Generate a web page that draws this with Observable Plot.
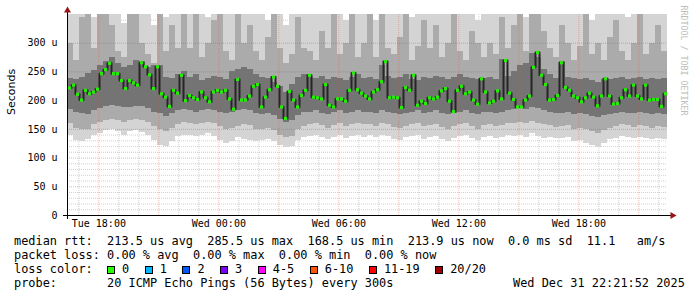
<!DOCTYPE html>
<html><head><meta charset="utf-8">
<script src="https://cdn.jsdelivr.net/npm/d3@7"></script>
<script src="https://cdn.jsdelivr.net/npm/@observablehq/plot@0.6"></script>
<style>
body{margin:0;background:#fff;width:697px;height:297px;overflow:hidden;font-family:"DejaVu Sans Mono",monospace;}
#chart svg{display:block;}
#legend{position:relative;font-size:11.9px;line-height:14px;color:#000;white-space:pre;padding-left:14px;}
#legend .ln{position:relative;height:14px;}
.sw{display:inline-block;width:6px;height:6px;border:1px solid #000;margin-right:7px;vertical-align:-1px;}
.it{margin-right:15.5px;}
.date{position:absolute;left:499px;top:0;}
</style></head><body>
<div id="chart"></div>
<div id="legend"></div>
<script>
// ---- time frame (UTC) ----
const t0 = Date.UTC(2025, 11, 30, 16, 26);
const tEnd = Date.UTC(2025, 11, 31, 22, 26);
const MIN = 60000;
const medStepMin = 12;   // one median every 12 min
const smokeStepMin = 18; // one smoke column every 18 min

// ---- median rtt (microseconds), loss 0 ----
const median = [
  222,227,211,201,218,212,215,220,247,254,
  265,247,247,235,221,235,231,227,266,259,
  245,221,259,212,206,190,218,213,244,200,
  209,205,202,215,205,198,215,218,
  215,218,203,185,237,201,201,208,225,228,189,206,
  219,241,225,189,169,216,201,189,209,218,
  244,206,205,203,228,192,189,203,203,199,
  218,248,219,213,208,203,
  215,219,233,268,205,206,205,188,223,218,
  244,192,199,195,205,203,206,217,221,199,
  181,218,225,212,215,201,194,238,215,196,
  199,217,203,270,213,202,189,
  189,201,208,258,284,244,228,201,202,209,
  266,223,218,208,205,198,205,213,206,191,
  208,238,208,194,195,205,219,208,227,208,
  203,227,201,202,202,190,212
];

// ---- smoke (distribution of the 20 pings, microseconds) ----
const sMax = [
  360,350,360,360,345,360,360,360,360,335,
  360,360,360,360,330,360,345,360,360,360,
  360,360,360,345,360,360,360,360,350,360,
  360,360,360,340,360,360,330,360,360,360,
  360,360,350,360,360,360,340,360,360,360,
  360,340,360,360,360,360,360,345,360,360,
  360,360,360,360,350,360,360,360,340,360,
  360,360,360,360,360,360,345,360,360,360,
  360,350,360,360,360,360,360,340,360,360,
  360,360,360,345,360,360,360,350,360,360
];
const sHi = [
  300,270,345,360,290,360,360,330,285,275,
  360,360,300,280,265,360,285,330,290,350,
  290,360,275,300,340,360,285,270,360,300,
  330,285,270,310,360,290,265,280,345,290,
  285,270,320,290,360,280,300,360,275,300,
  360,275,360,290,280,310,360,270,295,340,
  290,330,275,300,360,285,270,320,300,275,
  300,280,345,290,330,360,285,360,360,320,
  290,275,330,300,270,295,360,280,300,270,
  310,340,285,270,300,360,280,300,330,285
];
const cHi = [
  238,236,240,248,252,262,268,275,265,258,
  262,270,268,258,262,262,240,238,245,250,
  240,245,235,238,242,240,236,250,255,258,
  255,245,240,238,232,225,215,228,240,245,
  240,238,242,236,240,238,235,240,245,238,
  240,236,262,242,238,240,245,236,235,240,
  238,242,240,236,240,245,240,238,236,238,
  240,236,272,242,250,262,265,282,275,255,
  245,238,268,240,238,236,238,235,232,236,
  236,238,240,236,238,240,236,238,236,238
];
const cLo = [
  184,180,178,176,182,186,190,192,190,188,
  188,190,190,186,180,178,172,178,182,184,
  182,180,182,184,183,180,178,180,182,184,
  182,178,176,178,175,168,162,165,175,180,
  180,182,178,176,180,182,178,180,182,180,
  180,178,182,180,178,176,178,180,182,178,
  180,182,178,176,178,180,182,178,176,180,
  180,178,180,182,184,186,185,188,186,182,
  180,178,178,180,176,178,176,172,170,174,
  176,178,180,178,178,180,178,176,178,176
];
const sLo = [
  160,152,150,150,158,162,165,168,165,162,
  165,168,166,162,155,150,146,152,158,162,
  160,158,160,162,160,155,150,152,155,158,
  156,150,150,152,148,140,135,138,150,155,
  158,160,156,152,156,160,155,158,160,158,
  158,155,160,158,154,152,155,158,160,155,
  156,158,154,150,155,158,160,155,150,156,
  158,155,156,160,160,162,160,164,160,158,
  156,154,155,156,150,152,150,146,142,148,
  152,155,158,156,154,156,155,152,155,154
];
const sMin = [
  140,130,128,132,140,142,148,150,146,140,
  146,148,145,140,130,122,120,128,138,140,
  140,138,140,142,138,130,126,128,135,132,
  130,128,130,132,128,122,118,120,130,135,
  138,140,136,132,135,140,134,138,140,136,
  140,135,140,138,132,130,135,138,140,132,
  136,138,132,128,134,138,140,134,130,136,
  138,134,136,140,138,140,136,142,138,134,
  136,134,134,136,128,130,126,122,118,126,
  132,134,138,136,134,136,134,132,134,132
];

// ---- axis ticks / labels ----
const yTicks = [0, 50, 100, 150, 200, 250, 300];
const yTickLabels = ["0", "50 u", "100 u", "150 u", "200 u", "250 u", "300 u"];
const dayNames = ["Sun", "Mon", "Tue", "Wed", "Thu", "Fri", "Sat"];

// ---- legend texts ----
const statLines = [
  "median rtt:  213.5 us avg  285.5 us max  168.5 us min  213.9 us now  0.0 ms sd  11.1   am/s",
  "packet loss: 0.00 % avg  0.00 % max  0.00 % min  0.00 % now"
];
const lossLabels = ["0", "1", "2", "3", "4-5", "6-10", "11-19", "20/20"];
const lossColors = ["#26ff00", "#00b8ff", "#0059ff", "#7e00ff", "#ff00ff", "#ff5500", "#ff0000", "#a10000"];
const probeText = "probe:       20 ICMP Echo Pings (56 Bytes) every 300s";
const dateText = "Wed Dec 31 22:21:52 2025";

// ---- build tables ----
const medRows = median.map((v, i) => ({t: new Date(t0 + (i * medStepMin + medStepMin / 2) * MIN), v}));
const smoke = sMax.map((_, j) => ({
  t1: new Date(t0 + j * smokeStepMin * MIN),
  t2: new Date(t0 + (j + 1) * smokeStepMin * MIN),
  min: sMin[j], lo: sLo[j], clo: cLo[j], chi: cHi[j], hi: sHi[j], max: sMax[j]
}));

const hours = d3.utcHours(new Date(t0), new Date(tEnd));
const xMinor = hours.filter(d => d.getUTCHours() % 3 !== 0);
const xMajor = hours.filter(d => d.getUTCHours() % 3 === 0);
const xLabels = hours.filter(d => d.getUTCHours() % 6 === 0);
const yMinor = d3.range(10, 350, 10).filter(v => v % 50 !== 0);
const yMajor = [50, 100, 150, 200, 250, 300];

const pad2 = n => String(n).padStart(2, "0");
const fmtX = d => `${dayNames[d.getUTCDay()]} ${pad2(d.getUTCHours())}:${pad2(d.getUTCMinutes())}`;

const chart = Plot.plot({
  width: 697, height: 234,
  marginLeft: 67, marginRight: 30, marginTop: 14, marginBottom: 19,
  style: {fontFamily: "DejaVu Sans Mono, monospace", fontSize: "10px", background: "white", color: "black"},
  x: {type: "utc", domain: [new Date(t0), new Date(tEnd)], axis: null},
  y: {domain: [0, 350], axis: null},
  marks: [
    Plot.gridY(yMinor, {stroke: "#c4c4c4", strokeOpacity: 0.8, strokeDasharray: "1,1"}),
    Plot.gridX(xMinor, {stroke: "#c4c4c4", strokeOpacity: 0.8, strokeDasharray: "1,1"}),
    Plot.rect(smoke, {x1: "t1", x2: "t2", y1: "min", y2: "max", fill: "#d4d4d4", clip: true, shapeRendering: "crispEdges"}),
    Plot.rect(smoke, {x1: "t1", x2: "t2", y1: "lo", y2: "hi", fill: "#ababab", clip: true, shapeRendering: "crispEdges"}),
    Plot.rect(smoke, {x1: "t1", x2: "t2", y1: "clo", y2: "chi", fill: "#747474", clip: true, shapeRendering: "crispEdges"}),
    Plot.gridY(yMajor, {stroke: "#ff4040", strokeOpacity: 0.45, strokeDasharray: "1,1"}),
    Plot.gridX(xMajor, {stroke: "#ff4040", strokeOpacity: 0.35, strokeDasharray: "1,1"}),
    Plot.line(medRows, {x: "t", y: "v", curve: "step", stroke: "#262626", strokeWidth: 2}),
    Plot.dot(medRows, {x: "t", y: "v", symbol: "square", r: 1.8, fill: "#22f000", stroke: null}),
    Plot.ruleY([0], {stroke: "black", insetLeft: -4, insetRight: -4}),
    Plot.ruleX([new Date(t0)], {stroke: "black", insetTop: -4, insetBottom: -4}),
    Plot.dot([0], {frameAnchor: "top-left", symbol: "triangle", r: 2.6, fill: "#9a1414", stroke: null, dy: -4}),
    Plot.dot([0], {frameAnchor: "bottom-right", symbol: "triangle", rotate: 90, r: 2.6, fill: "#9a1414", stroke: null, dx: 5}),
    Plot.axisY(yTicks, {tickFormat: d => yTickLabels[yTicks.indexOf(d)], tickSize: 0, tickPadding: 10, fontSize: 10, fill: "black"}),
    Plot.axisX(xLabels, {tickFormat: fmtX, tickSize: 0, tickPadding: 4, fontSize: 10, fill: "black"}),
    Plot.text(["Seconds"], {frameAnchor: "left", rotate: -90, dx: -56, fontSize: 11, fontFamily: "DejaVu Sans, sans-serif", fill: "black"}),
    Plot.text(["RRDTOOL / TOBI OETIKER"], {frameAnchor: "top-right", rotate: 90, textAnchor: "start", dx: 19, dy: -9, fontSize: 8.3, fill: "#bdbdbd"})
  ]
});
document.getElementById("chart").append(chart);

// ---- legend below the chart ----
const legend = document.getElementById("legend");
for (const s of statLines) {
  const d = document.createElement("div"); d.className = "ln"; d.textContent = s; legend.append(d);
}
const l3 = document.createElement("div"); l3.className = "ln";
l3.append(document.createTextNode("loss color:  "));
lossLabels.forEach((lab, i) => {
  const sw = document.createElement("span"); sw.className = "sw"; sw.style.background = lossColors[i];
  const tx = document.createElement("span"); tx.className = "it"; tx.textContent = lab;
  l3.append(sw, tx);
});
legend.append(l3);
const l4 = document.createElement("div"); l4.className = "ln"; l4.textContent = probeText;
const dt = document.createElement("span"); dt.className = "date"; dt.textContent = dateText;
l4.append(dt); legend.append(l4);
</script>
</body></html>
